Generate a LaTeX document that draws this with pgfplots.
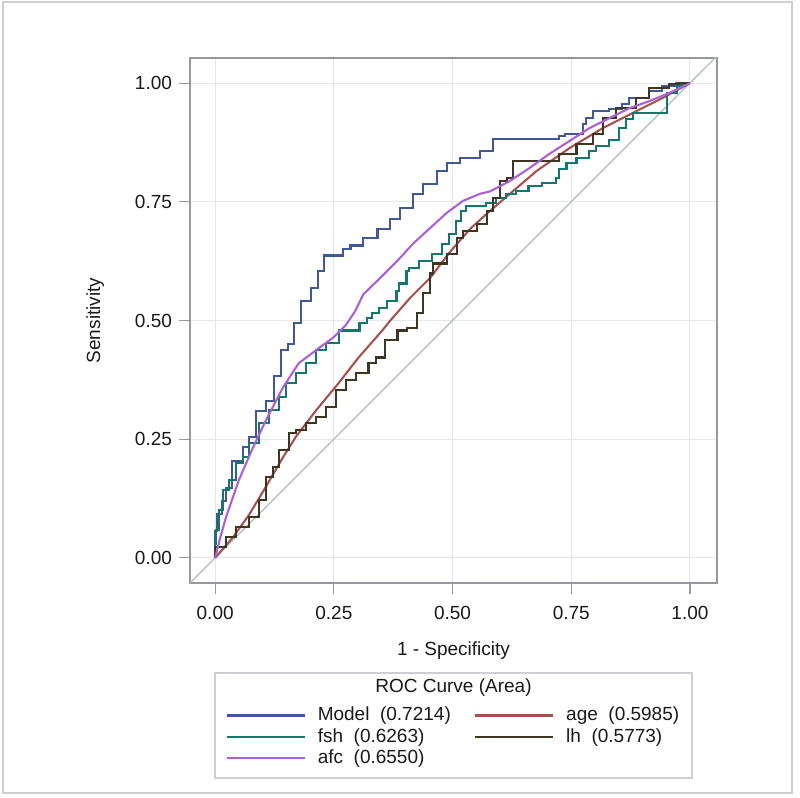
\documentclass[border=0pt]{standalone}
\usepackage{fontspec}
\setmainfont{Liberation Sans}
\usepackage{pgfplots}
\pgfplotsset{compat=1.18}

\definecolor{cmodel}{RGB}{66,88,150}
\definecolor{cfsh}{RGB}{20,118,108}
\definecolor{cafc}{RGB}{172,96,212}
\definecolor{cage}{RGB}{165,82,78}
\definecolor{clh}{RGB}{62,54,34}
\definecolor{cdiag}{RGB}{178,184,190}
\definecolor{cgrid}{RGB}{228,232,237}
\definecolor{caxis}{RGB}{150,152,155}
\definecolor{cframe}{RGB}{205,207,210}

\begin{document}
\begin{tikzpicture}
\begin{axis}[
    name=ax,
    scale only axis,
    width=263.5pt, height=262.5pt,
    xmin=-0.053, xmax=1.057,
    ymin=-0.053, ymax=1.053,
    xtick={0,0.25,0.5,0.75,1},
    ytick={0,0.25,0.5,0.75,1},
    xticklabels={0.00,0.25,0.50,0.75,1.00},
    yticklabels={0.00,0.25,0.50,0.75,1.00},
    tick align=outside,
    major tick length=5.5pt,
    tick style={caxis, line width=0.6pt},
    axis line style={caxis, line width=0.6pt},
    xtick pos=bottom, ytick pos=left,
    grid=major,
    grid style={cgrid, line width=0.5pt},
    ticklabel style={font=\fontsize{9.5}{11}\selectfont, text=black!90},
    xticklabel style={yshift=-2.5pt},
    label style={font=\fontsize{9.5}{11}\selectfont, text=black!90},
    xlabel={1 - Specificity},
    ylabel={Sensitivity},
    xlabel style={at={(axis description cs:0.5,-0.128)}, anchor=center},
    ylabel style={at={(axis description cs:-0.180,0.5)}, anchor=center},
    legend columns=2,
    legend style={
        at={(axis description cs:0.0664,-0.2358)}, anchor=north west,
        draw=none, fill=none, inner sep=0pt,
        font=\fontsize{9.5}{11}\selectfont, text=black!90,
        nodes={inner sep=0pt},
        row sep=2.2pt,
        /tikz/every odd column/.append style={column sep=6pt},
        /tikz/every even column/.append style={column sep=6pt},
    },
    legend cell align=left,
    legend image code/.code={\draw[#1, line width=1.2pt] (0pt,0pt) -- (39pt,0pt);},
    every axis plot/.append style={line width=1.05pt},
]

% reference diagonal
\addplot[cdiag, line width=0.6pt, forget plot] coordinates {(-0.1,-0.1) (1.1,1.1)};

% Model
\addplot[cmodel, const plot mark right] coordinates {
(0,0) (0.004,0.057) (0.014,0.092) (0.022,0.120) (0.036,0.148) (0.058,0.204)
(0.072,0.233) (0.086,0.254) (0.108,0.309) (0.123,0.331) (0.138,0.384)
(0.153,0.437) (0.166,0.450) (0.180,0.494) (0.201,0.542) (0.216,0.569)
(0.229,0.605) (0.247,0.637) (0.270,0.637) (0.285,0.651) (0.312,0.658)
(0.342,0.674) (0.369,0.693) (0.390,0.714) (0.417,0.737) (0.438,0.767)
(0.468,0.788) (0.488,0.815) (0.516,0.832) (0.530,0.842) (0.558,0.842)
(0.585,0.857) (0.593,0.882) (0.725,0.882) (0.736,0.889) (0.774,0.893)
(0.782,0.914) (0.795,0.926) (0.830,0.941) (0.857,0.945) (0.872,0.956)
(0.914,0.968) (0.941,0.983) (0.971,0.994) (1,1)
};
\addlegendentry{\makebox[72pt][l]{Model\ \ (0.7214)}}

% age
\addplot[cage] coordinates {
(0,0) (0.038,0.044) (0.071,0.090) (0.107,0.150) (0.143,0.212) (0.170,0.255)
(0.212,0.310) (0.260,0.368) (0.302,0.422) (0.352,0.479) (0.369,0.500)
(0.411,0.548) (0.453,0.590) (0.495,0.645) (0.537,0.693) (0.579,0.731)
(0.621,0.767) (0.677,0.815) (0.746,0.863) (0.816,0.905) (0.887,0.941)
(0.941,0.968) (1,1)
};
\addlegendentry{age\ \ (0.5985)}

% fsh
\addplot[cfsh, const plot mark right] coordinates {
(0,0) (0.002,0.030) (0.008,0.059) (0.017,0.101) (0.029,0.143) (0.044,0.164)
(0.059,0.200) (0.071,0.212) (0.092,0.242) (0.113,0.284) (0.134,0.311)
(0.149,0.338) (0.170,0.368) (0.191,0.389) (0.212,0.410) (0.233,0.437)
(0.260,0.452) (0.277,0.479) (0.304,0.479) (0.319,0.494) (0.331,0.506)
(0.346,0.515) (0.361,0.527) (0.382,0.542) (0.388,0.563) (0.403,0.578)
(0.409,0.605) (0.430,0.611) (0.457,0.626) (0.478,0.641) (0.493,0.662)
(0.507,0.683) (0.518,0.710) (0.528,0.731) (0.535,0.742) (0.570,0.742)
(0.591,0.748) (0.612,0.758) (0.633,0.767) (0.660,0.773) (0.688,0.784)
(0.717,0.790) (0.725,0.800) (0.740,0.819) (0.761,0.832) (0.788,0.842)
(0.803,0.857) (0.830,0.868) (0.850,0.880) (0.865,0.905) (0.880,0.925)
(0.887,0.937) (0.952,0.937) (0.973,0.979) (0.990,0.995) (1,1)
};
\addlegendentry{\makebox[72pt][l]{fsh\ \ (0.6263)}}

% lh
\addplot[clh, const plot mark right] coordinates {
(0,0) (0.023,0.023) (0.044,0.044) (0.071,0.065) (0.092,0.086) (0.107,0.122)
(0.122,0.170) (0.134,0.191) (0.155,0.227) (0.170,0.263) (0.191,0.269)
(0.212,0.284) (0.233,0.296) (0.254,0.317) (0.275,0.353) (0.296,0.374)
(0.323,0.389) (0.338,0.410) (0.358,0.422) (0.384,0.458) (0.405,0.479)
(0.426,0.485) (0.438,0.515) (0.453,0.557) (0.459,0.599) (0.488,0.620)
(0.509,0.641) (0.522,0.674) (0.551,0.689) (0.572,0.704) (0.585,0.731)
(0.600,0.758) (0.614,0.794) (0.627,0.800) (0.660,0.836) (0.725,0.836)
(0.761,0.851) (0.795,0.872) (0.816,0.893) (0.845,0.926) (0.887,0.947)
(0.914,0.968) (0.956,0.989) (0.977,0.998) (1,1)
};
\addlegendentry{lh\ \ (0.5773)}

% afc
\addplot[cafc] coordinates {
(0,0) (0.010,0.040) (0.023,0.086) (0.050,0.164) (0.080,0.233) (0.107,0.290)
(0.143,0.359) (0.176,0.410) (0.212,0.437) (0.250,0.465) (0.275,0.490)
(0.295,0.520) (0.312,0.555) (0.348,0.590) (0.384,0.626) (0.417,0.662)
(0.453,0.695) (0.488,0.727) (0.522,0.752) (0.558,0.767) (0.579,0.772)
(0.621,0.794) (0.662,0.821) (0.704,0.851) (0.746,0.878) (0.788,0.905)
(0.830,0.926) (0.872,0.947) (0.914,0.962) (0.956,0.979) (1,1)
};
\addlegendentry{\makebox[72pt][l]{afc\ \ (0.6550)}}

\end{axis}

\begin{scope}[shift={(ax.south west)}]
  % legend frame and title
  \draw[cframe, line width=0.6pt] (12.5pt,-45pt) rectangle (251pt,-97.5pt);
  \node[font=\fontsize{9.5}{11}\selectfont, text=black!90, anchor=center]
    at (131.75pt,-52.5pt) {ROC Curve (Area)};
  % outer frame
  \draw[cframe, line width=0.6pt] (-93.5pt,-105pt) rectangle (301pt,290.5pt);
  \path (-95pt,-107.5pt) rectangle (305pt,291.5pt);
\end{scope}
\end{tikzpicture}
\end{document}
